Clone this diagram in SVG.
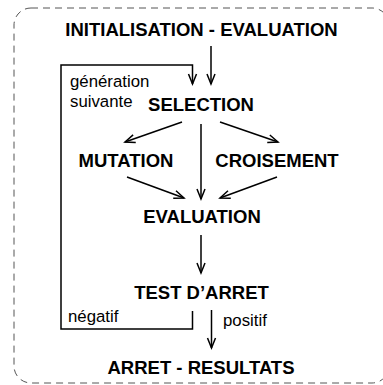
<svg xmlns="http://www.w3.org/2000/svg" width="383" height="385" viewBox="0 0 383 385">
  <style>
    .b { font-family: "Liberation Sans", Arial, sans-serif; font-weight: bold; font-size: 18.5px; fill: #000; text-anchor: middle; }
    .n { font-family: "Liberation Sans", Arial, sans-serif; font-size: 16.8px; fill: #000; }
    .c { fill: none; stroke: #000; stroke-width: 1.5; }
    .frame { fill: none; stroke: #555; stroke-width: 1; stroke-dasharray: 7 5; }
  </style>
  <defs>
    <marker id="arr" markerUnits="userSpaceOnUse" markerWidth="14" markerHeight="12" viewBox="-11 -6 13 12" refX="0" refY="0" orient="auto">
      <path d="M -10 -4 L 0 0 L -10 4" fill="none" stroke="#000" stroke-width="1.5"/>
    </marker>
  </defs>

  <!-- dashed outer frame (right edge runs past the canvas) -->
  <rect class="frame" x="14" y="8" width="375" height="375" rx="17" ry="17"/>

  <g id="init"><text class="b" x="201.5" y="36">INITIALISATION - EVALUATION</text></g>
  <g id="selection"><text class="b" x="201" y="111">SELECTION</text></g>
  <g id="mutation"><text class="b" x="126" y="167">MUTATION</text></g>
  <g id="croisement"><text class="b" x="277" y="167">CROISEMENT</text></g>
  <g id="evaluation"><text class="b" x="202" y="223">EVALUATION</text></g>
  <g id="test"><text class="b" x="201.5" y="299">TEST D’ARRET</text></g>
  <g id="arret"><text class="b" x="201" y="374">ARRET - RESULTATS</text></g>

  <g id="connectors">
    <line class="c" x1="211" y1="46" x2="211" y2="84" marker-end="url(#arr)"/>
    <polyline class="c" points="192.5,311 192.5,329 61,329 61,65 192.5,65 192.5,84" marker-end="url(#arr)"/>
    <line class="c" x1="182" y1="122" x2="125" y2="142" marker-end="url(#arr)"/>
    <line class="c" x1="201" y1="124" x2="201" y2="199" marker-end="url(#arr)"/>
    <line class="c" x1="220" y1="122" x2="278" y2="142" marker-end="url(#arr)"/>
    <line class="c" x1="127" y1="177" x2="184" y2="198" marker-end="url(#arr)"/>
    <line class="c" x1="277" y1="177" x2="220" y2="198" marker-end="url(#arr)"/>
    <line class="c" x1="201" y1="235" x2="201" y2="273" marker-end="url(#arr)"/>
    <line class="c" x1="211.5" y1="310" x2="211.5" y2="348" marker-end="url(#arr)"/>
    <text class="n" x="70" y="86.5">génération</text>
    <text class="n" x="70" y="106.5">suivante</text>
    <text class="n" x="68" y="321.5">négatif</text>
    <text class="n" x="223" y="326">positif</text>
  </g>
</svg>
